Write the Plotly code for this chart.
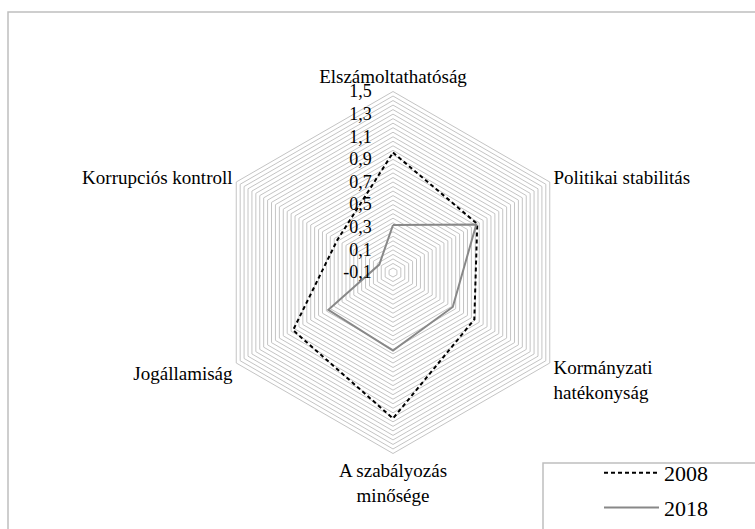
import plotly.graph_objects as go

# ---- data ----
categories = [
    "Elszámoltathatóság",
    "Politikai stabilitás",
    "Kormányzati<br>hatékonyság",
    "A szabályozás<br>minősége",
    "Jogállamiság",
    "Korrupciós kontroll",
]
values_2008 = [0.96, 0.76, 0.73, 1.19, 0.92, 0.47]
values_2018 = [0.32, 0.75, 0.51, 0.59, 0.56, 0.04]
series_names = ["2008", "2018"]

tick_values = [-0.1, 0.1, 0.3, 0.5, 0.7, 0.9, 1.1, 1.3, 1.5]
tick_labels = ["-0,1", "0,1", "0,3", "0,5", "0,7", "0,9", "1,1", "1,3", "1,5"]
r_min, r_max, minor_step = -0.1, 1.5, 0.04

# ---- gridline levels (major labelled, minor blank) ----
PAD = "\u00a0" * 4
n_minor = int(round((r_max - r_min) / minor_step))
grid_vals, grid_text = [], []
for k in range(n_minor + 1):
    v = round(r_min + k * minor_step, 4)
    grid_vals.append(v)
    lab = ""
    for tv, tl in zip(tick_values, tick_labels):
        if abs(tv - v) < 1e-6:
            lab = tl + PAD
    grid_text.append(lab)

FONT = "serif"
W, H = 755, 529

fig = go.Figure()

fig.add_trace(go.Scatterpolar(
    r=values_2008 + values_2008[:1],
    theta=categories + categories[:1],
    mode="lines",
    name=series_names[0],
    legendgroup="a",
    line=dict(color="#000000", width=2, dash="4px,3px"),
))
fig.add_trace(go.Scatterpolar(
    r=values_2018 + values_2018[:1],
    theta=categories + categories[:1],
    mode="lines",
    name=series_names[1],
    legendgroup="b",
    line=dict(color="#888888", width=2),
))

cx, cy, rad = 393, 272.5, 181
fx0, fy0 = 8 / W, 1 - 12 / H        # chart frame corner (left/top)
lx0, ly0 = 543 / W, 1 - 463 / H     # legend frame corner (left/top)
fig.update_layout(
    width=W, height=H,
    margin=dict(l=0, r=0, t=0, b=0),
    paper_bgcolor="white",
    plot_bgcolor="white",
    font=dict(family=FONT, size=16, color="#000000"),
    polar=dict(
        domain=dict(x=[(cx - rad) / W, (cx + rad) / W],
                    y=[(H - cy - rad) / H, (H - cy + rad) / H]),
        gridshape="linear",
        bgcolor="white",
        radialaxis=dict(
            range=[r_min, r_max],
            tickvals=grid_vals,
            ticktext=grid_text,
            angle=90,
            side="counterclockwise",
            tickangle=90,
            showline=False,
            ticks="",
            gridcolor="#c4c4c4",
            gridwidth=1,
            tickfont=dict(family=FONT, size=18, color="#000000"),
        ),
        angularaxis=dict(
            direction="clockwise",
            rotation=90,
            showgrid=False,
            showline=True,
            linecolor="#c4c4c4",
            linewidth=1,
            ticks="",
            tickfont=dict(family=FONT, size=19, color="#000000"),
        ),
    ),
    legend=dict(
        x=599 / W, y=0,
        xanchor="left", yanchor="bottom",
        bgcolor="rgba(0,0,0,0)",
        borderwidth=0,
        itemwidth=55,
        tracegroupgap=3,
        font=dict(family=FONT, size=22, color="#000000"),
    ),
    shapes=[
        dict(type="path", xref="paper", yref="paper",
             path=f"M {fx0},0 L {fx0},{fy0} L 1,{fy0}",
             line=dict(color="#bfbfbf", width=1.5), layer="below"),
        dict(type="path", xref="paper", yref="paper",
             path=f"M {lx0},0 L {lx0},{ly0} L 1,{ly0}",
             line=dict(color="#bfbfbf", width=1.5), layer="below"),
    ],
)

fig.write_html(
    "out.html",
    config={"displayModeBar": False},
    post_script=(
        "document.documentElement.style.margin='0';"
        "document.body.style.margin='0';"
        "document.documentElement.style.overflow='hidden';"
        "document.body.style.overflow='hidden';"
        "document.querySelectorAll('.plotly-graph-div').forEach(function(d){"
        "d.style.overflow='hidden';});"
    ),
)
